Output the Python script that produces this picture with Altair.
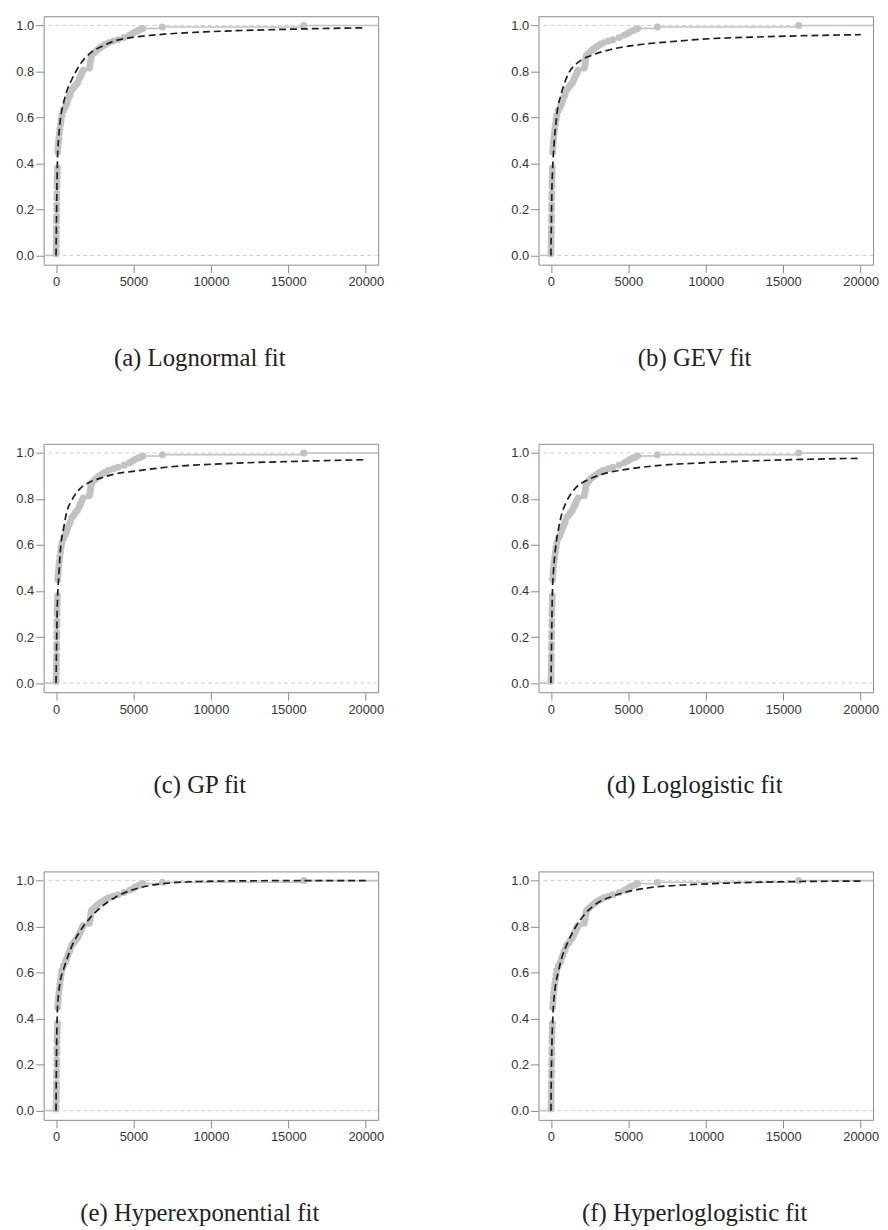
import altair as alt
import pandas as pd

# ---------------- data ----------------
# empirical CDF (same sample in every panel)
ecdf_x = [0, 5, 10, 15, 20, 25, 30, 35, 40, 45, 50, 55, 60, 65, 70, 75, 85, 95,
          110, 130, 150, 180, 210, 250, 290, 330, 380,
          480, 600, 680, 760, 850, 920, 1020, 1150, 1250, 1380, 1480, 1550, 1620,
          1680, 1760, 2150, 2200, 2230, 2260, 2300, 2450, 2600, 2750, 2900, 3050,
          3200, 3400, 3700, 4000, 4400, 4750, 4950, 5100, 5300, 5450, 5600, 6870,
          16000]
ecdf_y = [0.007, 0.02, 0.04, 0.06, 0.08, 0.10, 0.12, 0.15, 0.17, 0.20, 0.22, 0.25,
          0.27, 0.30, 0.32, 0.34, 0.36, 0.38,
          0.45, 0.47, 0.49, 0.51, 0.53, 0.55, 0.57, 0.59, 0.61,
          0.63, 0.645, 0.66, 0.675, 0.69, 0.70, 0.72, 0.73, 0.74, 0.75, 0.765, 0.775,
          0.785, 0.795, 0.805, 0.815, 0.83, 0.845, 0.86, 0.87, 0.88, 0.89, 0.898,
          0.905, 0.912, 0.918, 0.925, 0.932, 0.938, 0.948, 0.958, 0.965, 0.972,
          0.978, 0.982, 0.987, 0.993, 1.0]

# fitted CDFs (dashed curves)
fit_a_x = [0, 30, 60, 100, 170, 280, 490, 700, 1020, 1550, 2300, 2830, 3900, 4950,
           7000, 10000, 13000, 16000, 20000]
fit_a_y = [0, 0.15, 0.30, 0.43, 0.51, 0.59, 0.665, 0.715, 0.765, 0.83, 0.885, 0.905,
           0.935, 0.948, 0.962, 0.973, 0.98, 0.985, 0.99]

fit_b_x = [0, 30, 60, 100, 170, 380, 700, 1130, 1770, 2620, 3900, 5400, 7500, 9700,
           13900, 20000]
fit_b_y = [0, 0.15, 0.28, 0.36, 0.45, 0.61, 0.71, 0.79, 0.84, 0.87, 0.896, 0.914,
           0.928, 0.94, 0.951, 0.96]

fit_c_x = [0, 30, 64, 110, 170, 276, 490, 700, 1020, 1550, 2190, 2830, 3890, 4950,
           7076, 11326, 15577, 20000]
fit_c_y = [0, 0.14, 0.285, 0.39, 0.458, 0.572, 0.673, 0.745, 0.795, 0.845, 0.874,
           0.89, 0.91, 0.92, 0.938, 0.955, 0.964, 0.971]

fit_d_x = [0, 30, 60, 100, 170, 280, 490, 700, 1020, 1550, 2190, 2830, 3890, 4950,
           7000, 10000, 13000, 16000, 20000]
fit_d_y = [0, 0.12, 0.27, 0.40, 0.49, 0.575, 0.67, 0.735, 0.79, 0.845, 0.877, 0.897,
           0.918, 0.93, 0.946, 0.958, 0.966, 0.972, 0.977]

fit_e_x = [0, 20, 60, 100, 170, 280, 490, 700, 1020, 1550, 2190, 2830, 3890, 4950,
           6000, 7100, 9200, 12000, 16000, 20000]
fit_e_y = [0, 0.17, 0.37, 0.45, 0.51, 0.565, 0.615, 0.658, 0.715, 0.78, 0.837, 0.88,
           0.93, 0.96, 0.978, 0.988, 0.996, 0.999, 1.0, 1.0]

fit_f_x = [0, 20, 64, 120, 170, 277, 490, 704, 1023, 1556, 2196, 2836, 3900, 4968,
           6460, 8592, 11790, 16054, 20000]
fit_f_y = [0, 0.12, 0.29, 0.40, 0.463, 0.535, 0.607, 0.665, 0.722, 0.794, 0.855,
           0.895, 0.93, 0.952, 0.97, 0.981, 0.99, 0.996, 0.998]

captions = ["(a) Lognormal fit", "(b) GEV fit", "(c) GP fit",
            "(d) Loglogistic fit", "(e) Hyperexponential fit",
            "(f) Hyperloglogistic fit"]
fits = [(fit_a_x, fit_a_y), (fit_b_x, fit_b_y), (fit_c_x, fit_c_y),
        (fit_d_x, fit_d_y), (fit_e_x, fit_e_y), (fit_f_x, fit_f_y)]

x_ticks = [0, 5000, 10000, 15000, 20000]
y_ticks = [0.0, 0.2, 0.4, 0.6, 0.8, 1.0]
ref_levels = [0.0, 1.0]

# ---------------- tables ----------------
X_DOMAIN = [-800, 20800]
Y_DOMAIN = [-0.04, 1.04]

pts = pd.DataFrame({"x": ecdf_x, "y": ecdf_y})
steps = pd.DataFrame({
    "x": [X_DOMAIN[0]] + ecdf_x,
    "x2": ecdf_x + [X_DOMAIN[1]],
    "y": [0.0] + ecdf_y,
})
refs = pd.DataFrame({"y": ref_levels})

GRAY = "#c2c2c2"

X = alt.X("x:Q", scale=alt.Scale(domain=X_DOMAIN, nice=False, zero=False),
          axis=alt.Axis(values=x_ticks, format="d", title=None, labelPadding=3))
Y = alt.Y("y:Q", scale=alt.Scale(domain=Y_DOMAIN, nice=False, zero=False),
          axis=alt.Axis(values=y_ticks, format=".1f", title=None, labelPadding=2))


def panel(fx, fy, caption):
    fit = pd.DataFrame({"x": fx, "y": fy})
    ref = alt.Chart(refs).mark_rule(color="#d0d0d0", strokeDash=[4, 3],
                                    strokeWidth=1).encode(y=Y)
    st = alt.Chart(steps).mark_rule(color=GRAY, strokeWidth=1.6).encode(
        x=X, x2="x2:Q", y=Y)
    dots = alt.Chart(pts).mark_circle(color=GRAY, opacity=1, size=50).encode(x=X, y=Y)
    line = alt.Chart(fit).mark_line(color="#1e1e1e", strokeDash=[7, 4],
                                    strokeWidth=1.7, interpolate="monotone").encode(
        x=X, y=Y)
    return alt.layer(ref, st, dots, line).properties(
        width=338, height=251,
        title=alt.TitleParams(caption, orient="bottom", anchor="middle",
                              frame="bounds", font="Liberation Serif",
                              fontSize=25, fontWeight="normal", color="#222222",
                              offset=58),
    )


charts = [panel(fx, fy, c) for (fx, fy), c in zip(fits, captions)]

chart = alt.concat(*charts, columns=2, spacing={"row": 181, "column": 162},
                   bounds="flush").properties(
    padding={"left": 7, "top": 1, "right": 0, "bottom": 0}
).configure_view(
    stroke="#8a8a8a", strokeWidth=1
).configure_axis(
    domain=False, grid=False, tickColor="#8a8a8a", tickSize=8, tickWidth=1,
    labelFont="Liberation Sans", labelFontSize=13, labelColor="#333333",
)

chart.save("out.html", embed_options={"renderer": "svg", "actions": False})
